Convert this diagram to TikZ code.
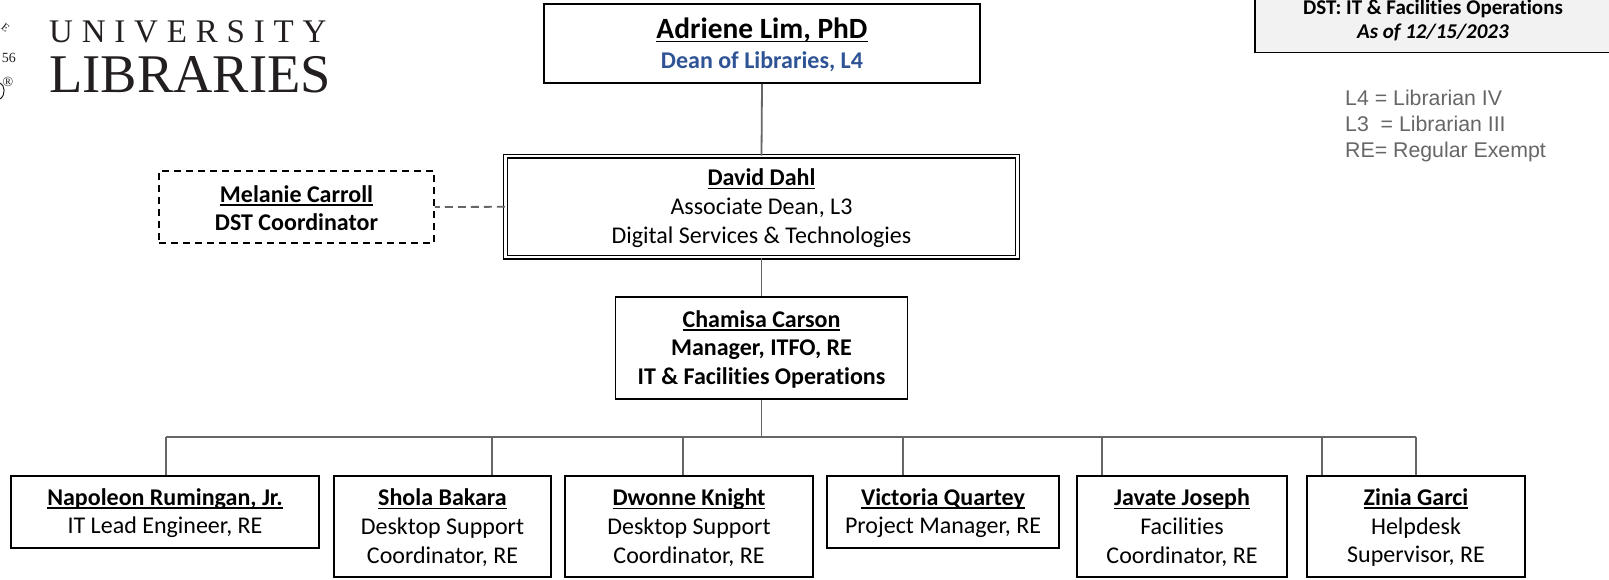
\documentclass[tikz,border=0pt]{standalone}
\usepackage{fontspec}
\setmainfont[Ligatures=NoCommon]{Carlito}
\newfontfamily\legendfont{Liberation Sans}
\newfontfamily\logofont{Liberation Serif}
\definecolor{conn}{HTML}{666666}
\definecolor{dean}{HTML}{2F5496}
\definecolor{legend}{HTML}{666666}
\definecolor{logoink}{HTML}{231F20}
\definecolor{titlefill}{HTML}{F2F2F2}
\tikzset{
 orgbox/.style={draw=black,line width=1.8pt,fill=white,rectangle,inner sep=0pt,align=center,text=black,font=\fontsize{24}{28.7}\selectfont},
 connector/.style={draw=conn,line width=1.8pt},
 dashconn/.style={connector,dash pattern=on 8pt off 5pt},
}
\newlength\nmw
\newcommand{\nm}[1]{\settowidth\nmw{\textbf{#1}}\rule{0pt}{0.8em}\rlap{\rule[-3.6pt]{\nmw}{1.7pt}}\textbf{#1}}
\newcommand{\orgnode}[6]{\node[orgbox,minimum width=#4pt-#2pt,minimum height=#5pt-#3pt] (#1) at ({(#2+#4)/2},{(#3+#5)/2}) {#6};}
\begin{document}
\begin{tikzpicture}[x=1pt,y=-1pt]
\useasboundingbox (0,0) rectangle (1609,579);
% logo
\node[font=\logofont\fontsize{33}{33}\selectfont,text=logoink,anchor=base west,inner sep=0pt] (univ) at (49,42) {U\kern8.8pt N\kern8.8pt I\kern8.8pt V\kern8.8pt E\kern8.8pt R\kern8.8pt S\kern8.8pt I\kern8.8pt T\kern8.8pt Y};
\node[font=\logofont\fontsize{54.5}{55}\selectfont,text=logoink,anchor=base west,inner sep=0pt] (libr) at (49,92) {LIBRARIES};
\node[font=\logofont\fontsize{14}{14}\selectfont,text=logoink,anchor=base east,inner sep=0pt] (yr) at (16,62) {56};
\node[font=\logofont\fontsize{14}{14}\selectfont,text=logoink,anchor=center,inner sep=0pt] (reg) at (8,82) {®};
\node[font=\logofont\fontsize{11}{11}\selectfont,text=logoink,rotate=-38,inner sep=0pt] (sealE) at (5.5,27.5) {E};
\draw[logoink,line width=1pt] (0,83) .. controls (5,85) and (6,95) .. (0,99);
% title
\node[draw=black,line width=1.8pt,fill=titlefill,rectangle,minimum width=360pt,minimum height=84pt,inner sep=0pt] (title) at (1435,10.5) {};
\node[font=\fontsize{21}{24.5}\selectfont,align=center,text=black,inner sep=0pt] (titletxt) at (1433,20.5) {\textbf{DST: IT \& Facilities Operations}\\\textbf{\textit{As of 12/15/2023}}};
\node[font=\legendfont\fontsize{21.3}{26}\selectfont,text=legend,align=left,anchor=north west,inner sep=0pt] (leg) at (1345,90) {L4 = Librarian IV\\L3\ \ = Librarian III\\RE= Regular Exempt};
% boxes
\orgnode{adriene}{544}{4}{980}{83}{{\fontsize{29.4}{32}\selectfont\nm{Adriene Lim, PhD}}\\[1pt]\textcolor{dean}{\textbf{Dean of Libraries, L4}}}
\node[orgbox,double,double distance=2.2pt,line width=1.3pt,minimum width=512pt,minimum height=101pt] (david) at (761.5,206.8) {\nm{David Dahl}\\Associate Dean, L3\\Digital Services \& Technologies};
\node[orgbox,dash pattern=on 7pt off 5pt,minimum width=275pt,minimum height=72pt] (melanie) at (296.5,207) {\nm{Melanie Carroll}\\\textbf{DST Coordinator}};
\orgnode{chamisa}{615.5}{297}{907.5}{399}{\nm{Chamisa Carson}\\\textbf{Manager, ITFO, RE}\\\textbf{IT \& Facilities Operations}}
\orgnode{napoleon}{11}{476}{319}{548}{\nm{Napoleon Rumingan, Jr.}\\IT Lead Engineer, RE}
\orgnode{shola}{334}{476}{551}{577}{\nm{Shola Bakara}\\Desktop Support\\Coordinator, RE}
\orgnode{dwonne}{565}{476}{813}{577}{\nm{Dwonne Knight}\\Desktop Support\\Coordinator, RE}
\orgnode{victoria}{827}{476}{1059}{548}{\nm{Victoria Quartey}\\Project Manager, RE}
\orgnode{javate}{1077}{476}{1287}{577}{\nm{Javate Joseph}\\Facilities\\Coordinator, RE}
\orgnode{zinia}{1307}{476}{1525}{577}{\nm{Zinia Garci}\\Helpdesk\\Supervisor, RE}
% bus junctions
\coordinate (busL) at (166,437);
\coordinate (busR) at (1416,437);
\coordinate (busM) at (761.5,437);
\coordinate (busA) at (492,437);
\coordinate (busB) at (683,437);
\coordinate (busC) at (903,437);
\coordinate (busD) at (1102,437);
\coordinate (busE) at (1322,437);
% connectors
\draw[connector] (adriene.south) -- (david.north);
\draw[connector] (david.south) -- (chamisa.north);
\draw[dashconn] (david.west) -- (melanie.east);
\draw[connector] (chamisa.south) -- (busM);
\draw[connector] (busL) -- (busR);
\draw[connector] (busL) -- (busL |- napoleon.north);
\draw[connector] (busA) -- (busA |- shola.north);
\draw[connector] (busB) -- (busB |- dwonne.north);
\draw[connector] (busC) -- (busC |- victoria.north);
\draw[connector] (busD) -- (busD |- javate.north);
\draw[connector] (busE) -- (busE |- zinia.north);
\draw[connector] (busR) -- (busR |- zinia.north);
\end{tikzpicture}
\end{document}
